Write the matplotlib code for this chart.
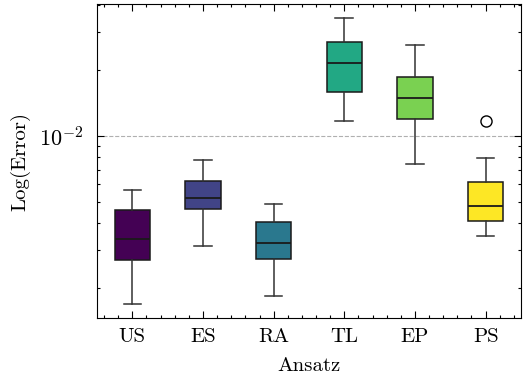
import matplotlib
matplotlib.use('Agg')
import matplotlib.pyplot as plt
from matplotlib.ticker import MultipleLocator, NullFormatter
import numpy as np

plt.rcParams['font.family'] = 'cmr10'
plt.rcParams['mathtext.fontset'] = 'cm'
plt.rcParams['axes.formatter.use_mathtext'] = True
plt.rcParams['font.size'] = 15

labels = ['US', 'ES', 'RA', 'TL', 'EP', 'PS']
whislo = [1.70e-3, 3.14e-3, 1.85e-3, 1.17e-2, 7.46e-3, 3.48e-3]
q1     = [2.71e-3, 4.64e-3, 2.73e-3, 1.59e-2, 1.19e-2, 4.06e-3]
med    = [3.38e-3, 5.18e-3, 3.24e-3, 2.17e-2, 1.49e-2, 4.77e-3]
q3     = [4.59e-3, 6.22e-3, 4.02e-3, 2.69e-2, 1.87e-2, 6.15e-3]
whishi = [5.64e-3, 7.74e-3, 4.86e-3, 3.47e-2, 2.61e-2, 7.95e-3]
fliers = [[], [], [], [], [], [1.17e-2]]

colors = plt.cm.viridis(np.linspace(0, 1, len(labels)))

stats = []
for i in range(len(labels)):
    stats.append(dict(label=labels[i], whislo=whislo[i], q1=q1[i], med=med[i],
                      q3=q3[i], whishi=whishi[i], fliers=fliers[i]))

fig = plt.figure(figsize=(5.23, 3.80), dpi=100)
ax = fig.add_axes([0.1855, 0.163, 0.8105, 0.8265])

bp = ax.bxp(stats, patch_artist=True, widths=0.5,
            boxprops=dict(edgecolor='#1a1a1a', linewidth=1.1),
            medianprops=dict(color='#1a1a1a', linewidth=1.3),
            whiskerprops=dict(color='#333333', linewidth=1.1),
            capprops=dict(color='#333333', linewidth=1.1),
            flierprops=dict(marker='o', markerfacecolor='none',
                            markeredgecolor='black', markersize=8))
for patch, c in zip(bp['boxes'], colors):
    patch.set_facecolor(c)

ax.axhline(1e-2, color='#b0b0b0', linestyle='--', linewidth=0.8, zorder=0)

ax.set_yscale('log')
ax.set_ylim(1.46e-3, 4.03e-2)
ax.set_xlim(0.5, 6.5)
ax.xaxis.set_minor_locator(MultipleLocator(0.2))
ax.yaxis.set_minor_formatter(NullFormatter())

ax.tick_params(which='both', direction='in', top=True, right=True)
ax.tick_params(which='major', length=5, width=0.8)
ax.tick_params(which='minor', length=2.5, width=0.8)
ax.tick_params(axis='x', which='major', pad=7)
ax.tick_params(axis='y', which='major', labelsize=16, pad=10)

ax.set_xlabel('Ansatz', labelpad=8)
ax.set_ylabel('Log(Error)', labelpad=6)

plt.savefig('out.png')
